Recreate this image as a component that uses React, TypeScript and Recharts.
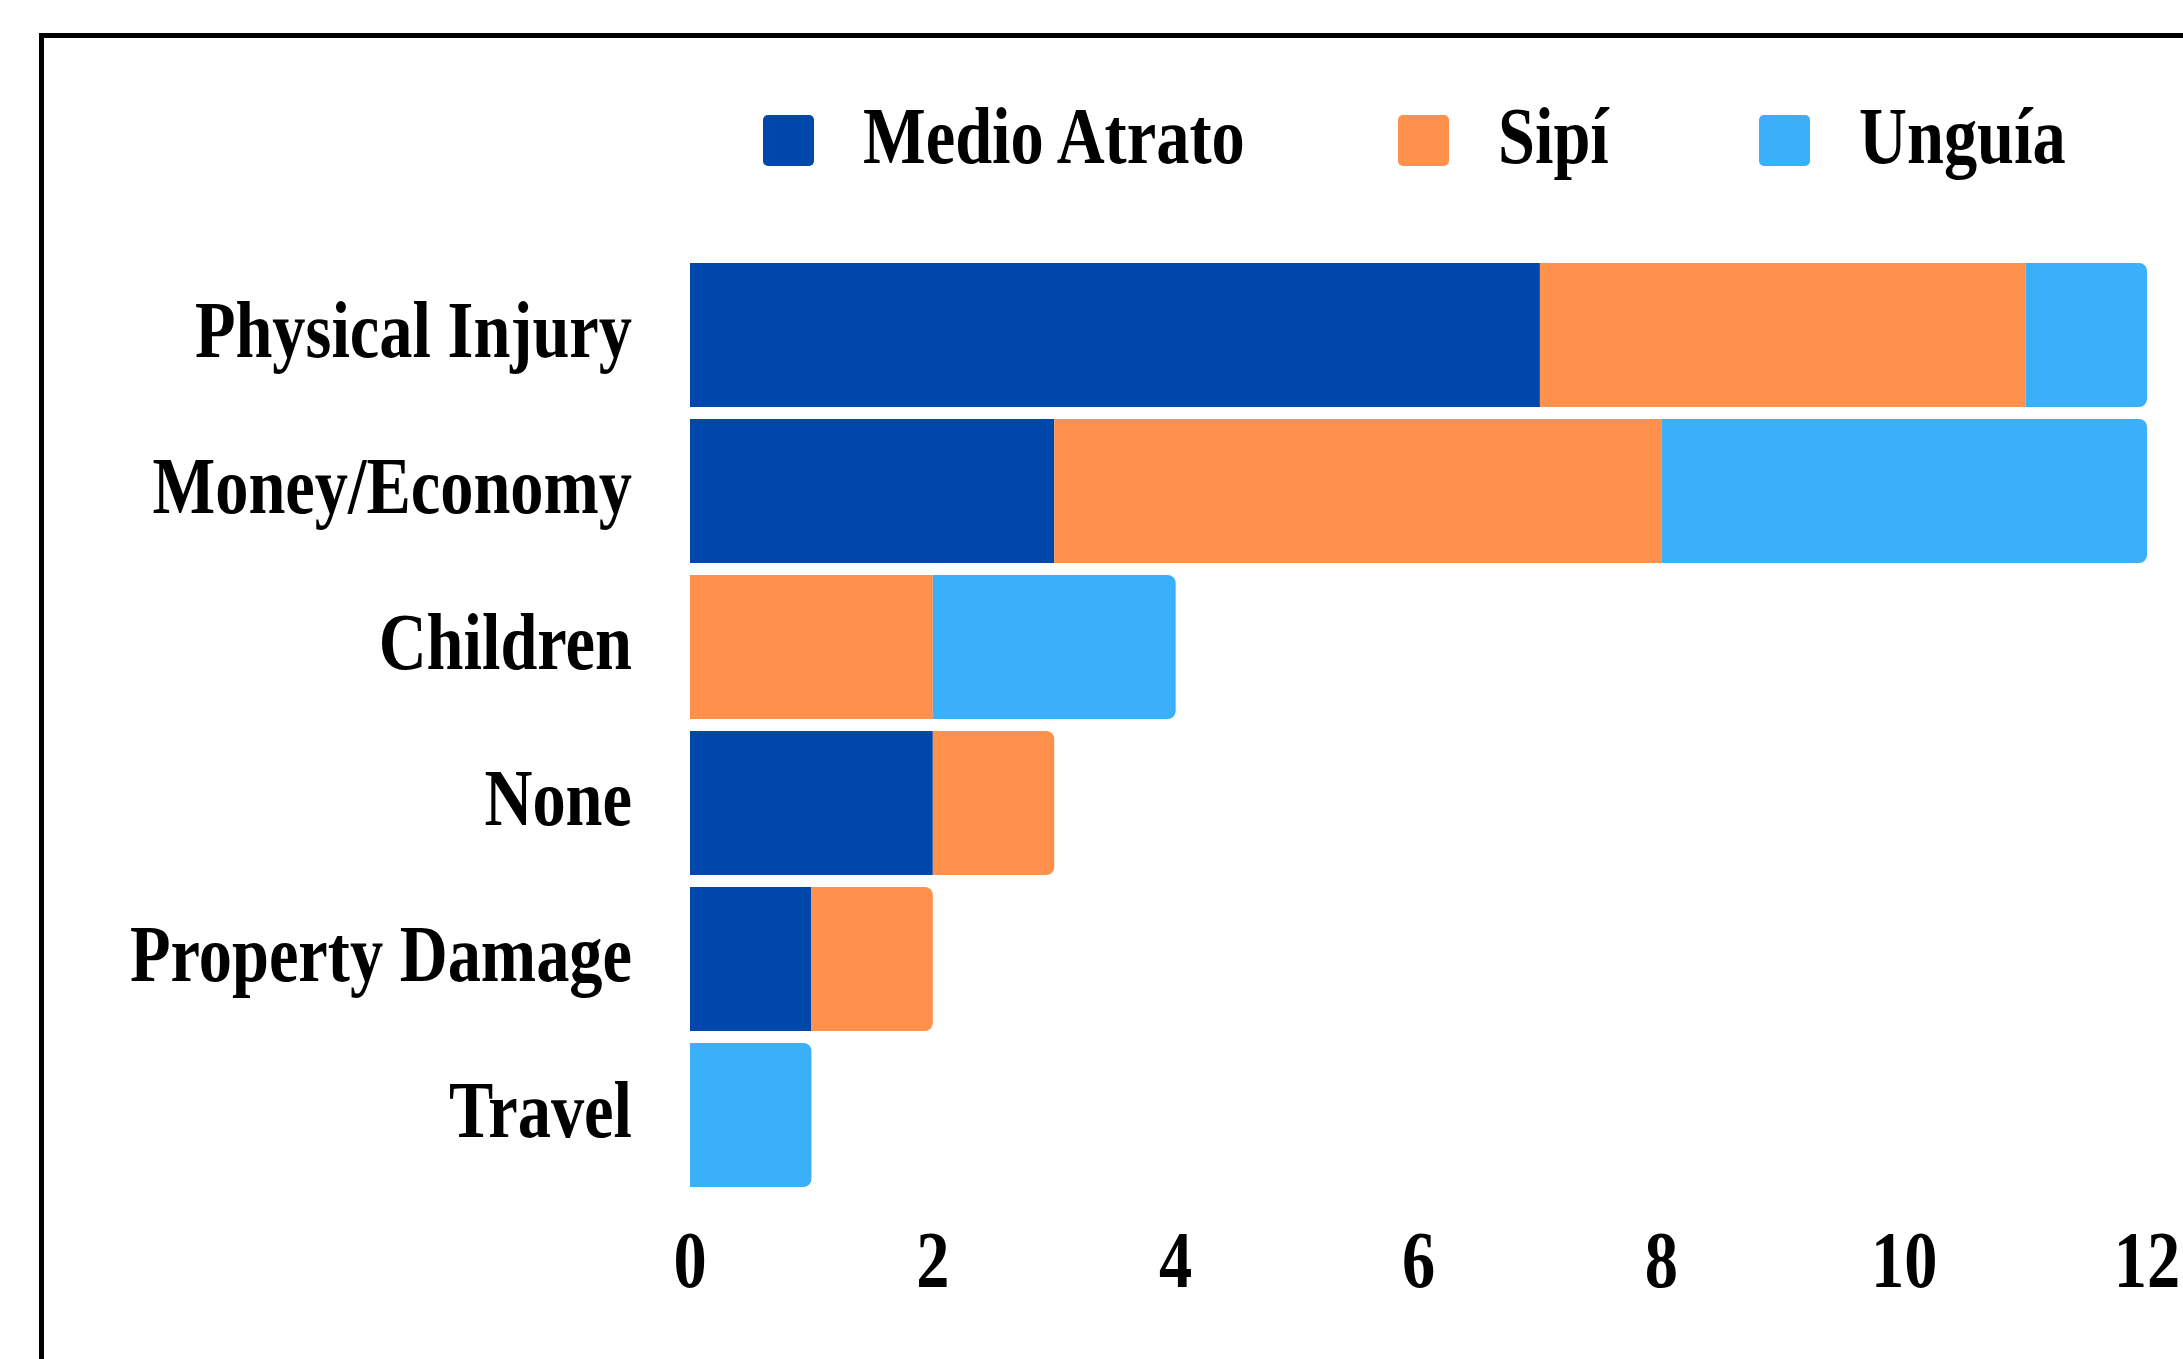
import React from 'react'
import { BarChart, Bar, XAxis, YAxis, Legend, Rectangle } from 'recharts'

// values
const categories = ['Physical Injury', 'Money/Economy', 'Children', 'None', 'Property Damage', 'Travel']
const medioAtrato = [7, 3, 0, 2, 1, 0]
const sipi = [4, 5, 2, 1, 1, 0]
const unguia = [1, 4, 2, 0, 0, 1]
const xTicks = [0, 2, 4, 6, 8, 10, 12]

const series = [
  { key: 'medioAtrato', name: 'Medio Atrato', color: '#0047AB' },
  { key: 'sipi', name: 'Sipí', color: '#FF914D' },
  { key: 'unguia', name: 'Unguía', color: '#3BB0FA' },
]

const chartData = categories.map((category, i) => ({
  category,
  medioAtrato: medioAtrato[i],
  sipi: sipi[i],
  unguia: unguia[i],
}))

const FONT = '"Liberation Serif", "Times New Roman", serif'
const FONT_SIZE = 80
const SQUEEZE = 0.83

const measureText = (text: string) => {
  const ctx = document.createElement('canvas').getContext('2d')
  if (!ctx) return text.length * FONT_SIZE * 0.5
  ctx.font = `bold ${FONT_SIZE}px ${FONT}`
  return ctx.measureText(text).width
}

// round the right end of whichever segment closes the stack
const makeShape = (key: string) => (props: any) => {
  const row = props.payload || {}
  let lastKey = ''
  series.forEach((s) => {
    if (row[s.key] > 0) lastKey = s.key
  })
  const r = key === lastKey ? [0, 8, 8, 0] : 0
  return <Rectangle {...props} radius={r as any} />
}

const YTick = (props: any) => {
  const { x, y, payload } = props
  return (
    <text
      transform={`translate(${x},${y + 22}) scale(${SQUEEZE},1)`}
      textAnchor="end"
      fontFamily={FONT}
      fontWeight="bold"
      fontSize={FONT_SIZE}
      fill="#000"
    >
      {payload.value}
    </text>
  )
}

const XTick = (props: any) => {
  const { x, y, payload } = props
  return (
    <text
      transform={`translate(${x},${y}) scale(${SQUEEZE},1)`}
      textAnchor="middle"
      fontFamily={FONT}
      fontWeight="bold"
      fontSize={FONT_SIZE}
      fill="#000"
    >
      {payload.value}
    </text>
  )
}

const LegendContent = () => (
  <div style={{ display: 'flex', alignItems: 'center', height: 101, whiteSpace: 'nowrap' }}>
    {series.map((s) => (
      <div key={s.key} style={{ display: 'flex', alignItems: 'center', marginRight: 150 }}>
        <div style={{ width: 51, height: 51, background: s.color, borderRadius: 5 }} />
        <span style={{ display: 'inline-block', marginLeft: 49, width: measureText(s.name) * SQUEEZE }}>
          <span
            style={{
              display: 'inline-block',
              fontFamily: FONT,
              fontWeight: 'bold',
              fontSize: FONT_SIZE,
              lineHeight: `${FONT_SIZE}px`,
              color: '#000',
              transform: `translateY(-5px) scaleX(${SQUEEZE})`,
              transformOrigin: 'left center',
            }}
          >
            {s.name}
          </span>
        </span>
      </div>
    ))}
  </div>
)

export default function App() {
  return (
    <div
      style={{
        position: 'absolute',
        left: 0,
        top: 0,
        width: 2183,
        height: 1359,
        overflow: 'hidden',
        background: '#fff',
      }}
    >
      <div
        style={{
          position: 'absolute',
          left: 39,
          top: 33,
          width: 2400,
          height: 1600,
          border: '5px solid #000',
          boxSizing: 'border-box',
        }}
      />
      <div style={{ position: 'absolute', left: 0, top: 0 }}>
        <BarChart
          width={2300}
          height={1359}
          data={chartData}
          layout="vertical"
          margin={{ top: 257, right: 153, bottom: 0, left: 0 }}
          barCategoryGap={6}
        >
          <XAxis
            type="number"
            domain={[0, 12]}
            ticks={xTicks}
            interval={0}
            height={166}
            axisLine={false}
            tickLine={false}
            tickSize={0}
            tickMargin={94}
            tick={<XTick />}
          />
          <YAxis
            type="category"
            dataKey="category"
            width={690}
            axisLine={false}
            tickLine={false}
            tickSize={0}
            tickMargin={58}
            interval={0}
            tick={<YTick />}
          />
          <Legend
            layout="horizontal"
            verticalAlign="middle"
            align="center"
            content={<LegendContent />}
            wrapperStyle={{ top: 90, left: 763, width: 1500, height: 101 }}
          />
          {series.map((s) => (
            <Bar
              key={s.key}
              dataKey={s.key}
              name={s.name}
              stackId="a"
              fill={s.color}
              shape={makeShape(s.key)}
              isAnimationActive={false}
            />
          ))}
        </BarChart>
      </div>
    </div>
  )
}
